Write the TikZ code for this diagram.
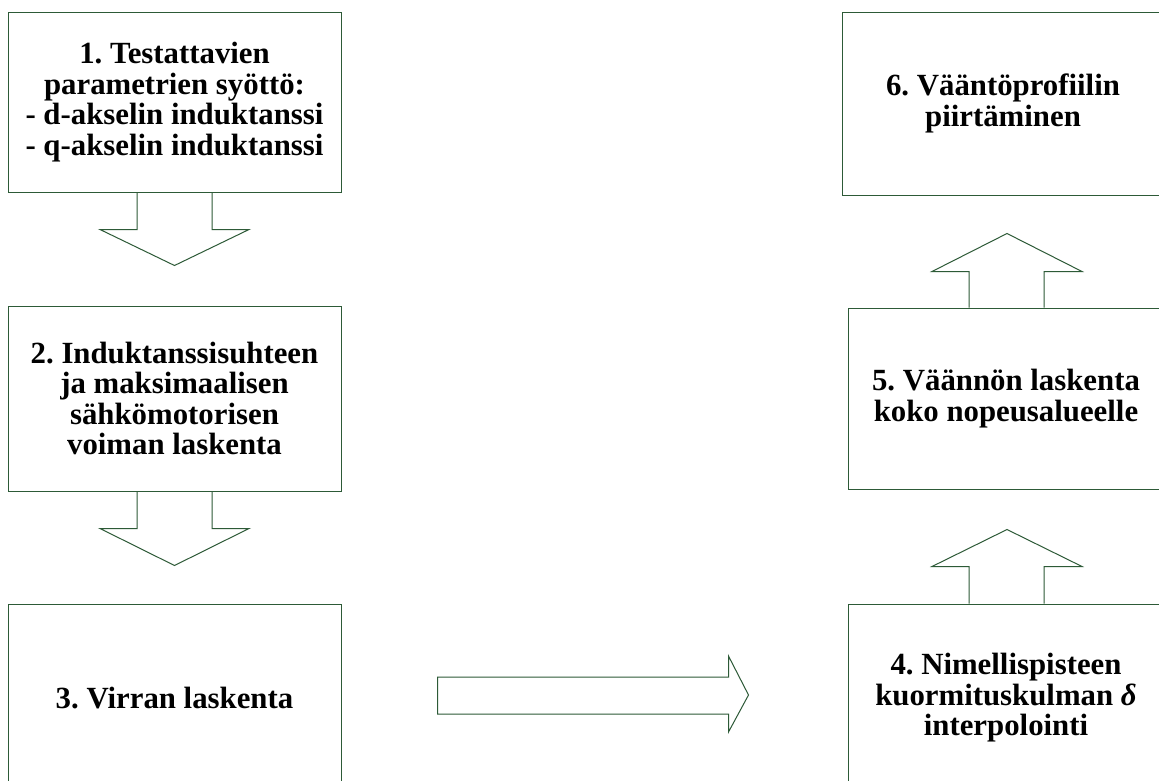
\documentclass[tikz,border=0pt]{standalone}
\usepackage{fontspec}
\setmainfont{Liberation Serif}
\usetikzlibrary{calc}
\definecolor{edge}{RGB}{45,90,55}
\frenchspacing
\tikzset{
  stepbox/.style={draw=edge, line width=1pt, fill=white, align=center, inner sep=0pt,
    font=\bfseries\fontsize{30.8}{30.5}\selectfont},
  blk/.style={draw=edge, line width=1pt, line join=miter}
}
\begin{document}
\begin{tikzpicture}[x=1pt,y=-1pt]
\useasboundingbox (0,0) rectangle (1159,780);
\clip (0,0) rectangle (1159,780);
\fill[white] (0,0) rectangle (1159,780);
% left column
\node[stepbox, minimum width=333pt, minimum height=180pt] (b1) at (174.5,102)
  {1. Testattavien\\parametrien syöttö:\\- d-akselin induktanssi\\- q-akselin induktanssi};
\node[stepbox, minimum width=333pt, minimum height=185pt] (b2) at (174.5,398.5)
  {2. Induktanssisuhteen\\ja maksimaalisen\\sähkömotorisen\\voiman laskenta};
\node[stepbox, minimum width=333pt, minimum height=188pt] (b3) at (174.5,698)
  {3. Virran laskenta};
% right column
\node[stepbox, minimum width=322pt, minimum height=183pt] (b6) at (1003,103.5)
  {6. Vääntöprofiilin\\piirtäminen};
\node[stepbox, minimum width=316pt, minimum height=181pt] (b5) at (1006,398.5)
  {5. Väännön laskenta\\koko nopeusalueelle};
\node[stepbox, minimum width=316pt, minimum height=188pt] (b4) at (1006,698)
  {4. Nimellispisteen\\kuormituskulman \textit{δ}\\interpolointi};
% down arrows
\draw[blk] ($(b1.south)+(-37.5,0)$) -- ++(0,37) -- ++(-37,0) -- ++(74.5,36) -- ++(74.5,-36) -- ++(-37,0) -- ++(0,-37);
\draw[blk] ($(b2.south)+(-37.5,0)$) -- ++(0,37) -- ++(-37,0) -- ++(74.5,37) -- ++(74.5,-37) -- ++(-37,0) -- ++(0,-37);
% up arrows
\draw[blk] ($(b5.north)+(-37,0)$) -- ++(0,-36) -- ++(-37,0) -- ++(75,-38) -- ++(75,38) -- ++(-38,0) -- ++(0,36);
\draw[blk] ($(b4.north)+(-37,0)$) -- ++(0,-37) -- ++(-37,0) -- ++(75,-37) -- ++(75,37) -- ++(-38,0) -- ++(0,37);
% right arrow
\coordinate (ra) at ($(b3.east |- 0,695.5)+(96,0)$);
\draw[blk] ($(ra)+(0,-18.5)$) -- ++(291,0) -- ++(0,-21) -- ++(20,39) -- ++(-20,37) -- ++(0,-18) -- ++(-291,0) -- cycle;
\end{tikzpicture}
\end{document}
